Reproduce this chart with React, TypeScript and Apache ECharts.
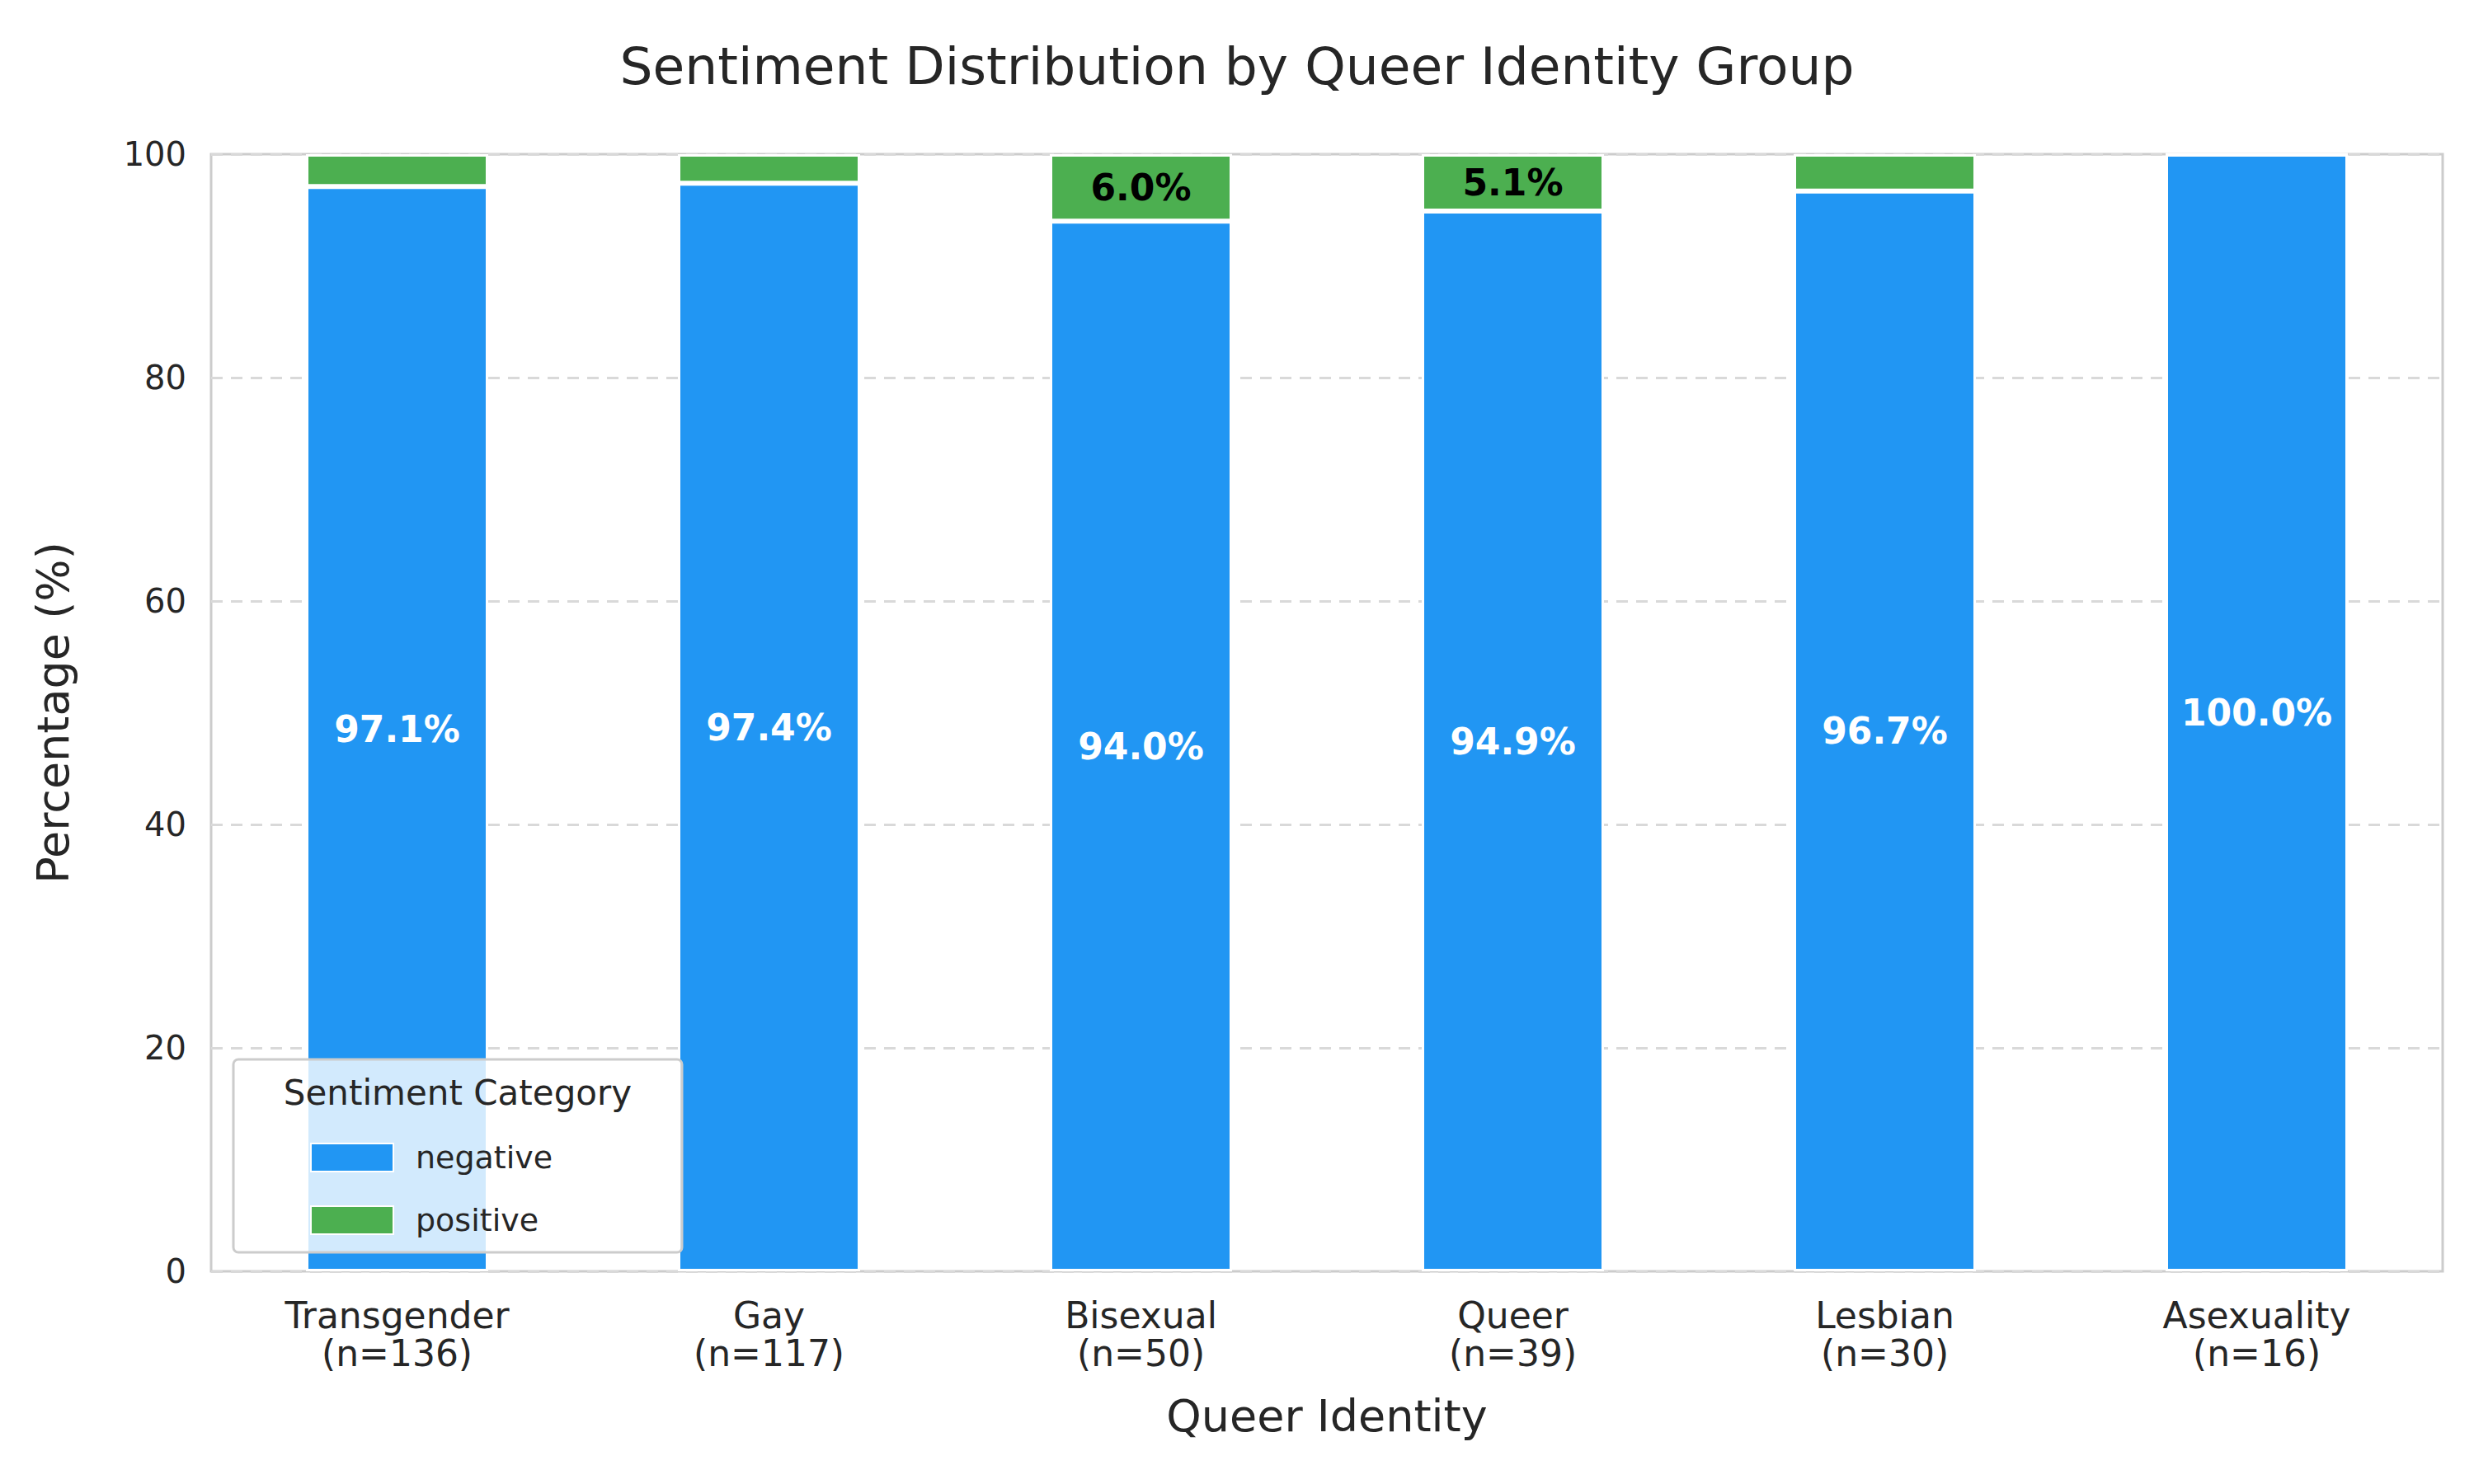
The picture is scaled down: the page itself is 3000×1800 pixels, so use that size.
import React, { useEffect, useRef } from "react";
import * as echarts from "echarts";

const groups = ["Transgender", "Gay", "Bisexual", "Queer", "Lesbian", "Asexuality"];
const counts = [136, 117, 50, 39, 30, 16];
const negative = [97.1, 97.4, 94.0, 94.9, 96.7, 100.0];
const positive = [2.9, 2.6, 6.0, 5.1, 3.3, 0.0];
const yTicks = { min: 0, max: 100, interval: 20 };

const font = "DejaVu Sans";

export default function App() {
  const ref = useRef<HTMLDivElement>(null);

  useEffect(() => {
    document.body.style.margin = "0";
    if (!ref.current) return;
    const chart = echarts.init(ref.current, null, { renderer: "svg" });

    chart.setOption({
      animation: false,
      textStyle: { fontFamily: font },
      title: {
        text: "Sentiment Distribution by Queer Identity Group",
        left: "center",
        top: 44,
        textStyle: { fontSize: 63, fontWeight: "normal", color: "#262626", fontFamily: font },
      },
      grid: {
        left: 256,
        right: 38,
        top: 187,
        bottom: 258,
        show: true,
        borderColor: "#cccccc",
        borderWidth: 3,
        backgroundColor: "#ffffff",
      },
      legend: {
        orient: "vertical",
        left: 371,
        top: 1380,
        z: 102,
        itemWidth: 100,
        itemHeight: 34,
        itemGap: 38,
        icon: "rect",
        textStyle: { fontSize: 38, color: "#262626", fontFamily: font, padding: [0, 0, 0, 22] },
        data: ["negative", "positive"],
      },
      graphic: [
        {
          type: "rect",
          z: 100,
          shape: { x: 283, y: 1285, width: 544, height: 234, r: 6 },
          style: { fill: "rgba(255,255,255,0.8)", stroke: "#cccccc", lineWidth: 3 },
        },
        {
          type: "text",
          z: 101,
          style: {
            x: 555,
            y: 1325,
            text: "Sentiment Category",
            fontSize: 42,
            fontFamily: font,
            fill: "#262626",
            align: "center",
            verticalAlign: "middle",
          },
        },
      ],
      xAxis: {
        type: "category",
        data: groups.map((g, i) => `${g}\n(n=${counts[i]})`),
        name: "Queer Identity",
        nameLocation: "middle",
        nameGap: 148,
        nameTextStyle: { fontSize: 54, color: "#262626", fontFamily: font },
        axisLine: { show: false },
        axisTick: { show: false },
        axisLabel: { fontSize: 44, lineHeight: 46, color: "#262626", margin: 30, fontFamily: font },
      },
      yAxis: {
        type: "value",
        ...yTicks,
        name: "Percentage (%)",
        nameLocation: "middle",
        nameGap: 165,
        nameTextStyle: { fontSize: 54, color: "#262626", fontFamily: font },
        axisLine: { show: false },
        axisTick: { show: false },
        axisLabel: { fontSize: 40, color: "#262626", margin: 30, fontFamily: font },
        splitLine: { lineStyle: { color: "#d9d9d9", type: [14, 10], width: 3 } },
      },
      series: [
        {
          name: "negative",
          type: "bar",
          stack: "s",
          barWidth: "49%",
          data: negative,
          itemStyle: { color: "#2196F3", borderColor: "#ffffff", borderWidth: 3 },
          label: {
            show: true,
            position: "inside",
            formatter: (p: any) => `${p.value.toFixed(1)}%`,
            color: "#ffffff",
            fontWeight: "bold",
            fontSize: 44,
            fontFamily: font,
          },
        },
        {
          name: "positive",
          type: "bar",
          stack: "s",
          barWidth: "49%",
          data: positive,
          itemStyle: { color: "#4CAF50", borderColor: "#ffffff", borderWidth: 3 },
          label: {
            show: true,
            position: "inside",
            formatter: (p: any) => (p.value >= 5 ? `${p.value.toFixed(1)}%` : ""),
            color: "#000000",
            fontWeight: "bold",
            fontSize: 44,
            fontFamily: font,
          },
        },
      ],
    });

    return () => chart.dispose();
  }, []);

  return <div ref={ref} style={{ width: 3000, height: 1800 }} />;
}
